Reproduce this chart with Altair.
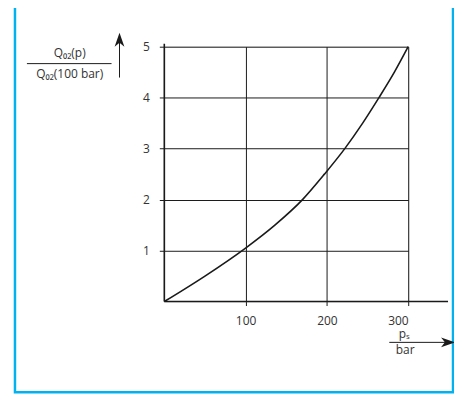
import altair as alt
import pandas as pd

# ---- data ----
pressure = [0, 50, 100, 136, 170, 197, 222, 244, 264, 283, 300]
ratio = [0, 0.5, 1.05, 1.5, 2.0, 2.5, 3.0, 3.5, 4.0, 4.5, 5.0]
x_ticks = [100, 200, 300]
y_ticks = [1, 2, 3, 4, 5]
y_title_top = "Q₀₂(p)"
y_title_bottom = "Q₀₂(100 bar)"
x_title_top = "pₛ"
x_title_bottom = "bar"

curve = pd.DataFrame({"p": pressure, "q": ratio})
one = pd.DataFrame({"k": [0]})

W, H = 245, 256
INK = "#1a1a1a"
TXT = "#333333"
FONT = "Open Sans"
BLUE = "#00b2ef"

xs = alt.Scale(domain=[0, 300], nice=False, zero=True)
ys = alt.Scale(domain=[0, 5], nice=False, zero=True)

line = alt.Chart(curve).mark_line(
    color=INK, strokeWidth=1.6, interpolate="monotone", clip=False
).encode(
    x=alt.X("p:Q", scale=xs, axis=alt.Axis(
        values=x_ticks, grid=True, gridColor=INK, gridWidth=1, gridOpacity=1,
        domain=False, ticks=True, tickColor=INK, tickSize=4, tickWidth=1,
        labelFont=FONT, labelFontSize=12, labelColor=TXT, labelPadding=10,
        title=None)),
    y=alt.Y("q:Q", scale=ys, axis=alt.Axis(
        values=y_ticks, grid=True, gridColor=INK, gridWidth=1, gridOpacity=1,
        domain=False, ticks=True, tickColor=INK, tickSize=5, tickWidth=1,
        labelFont=FONT, labelFontSize=12, labelColor=TXT, labelPadding=10,
        title=None)),
)

deco = alt.Chart(one)

# axis lines (extended beyond the data range, as in the drawing)
x_axis_line = deco.mark_rule(color=INK, strokeWidth=1.6).encode(
    x=alt.value(0), x2=alt.value(285), y=alt.value(H))
y_axis_line = deco.mark_rule(color=INK, strokeWidth=1.6).encode(
    x=alt.value(0), y=alt.value(-3), y2=alt.value(H))

# border
border = deco.mark_rect(fill="transparent", stroke=BLUE, strokeWidth=2.5).encode(
    x=alt.value(-150), x2=alt.value(290), y=alt.value(-40), y2=alt.value(347))

# y title as fraction with upward arrow
y_frac = deco.mark_rule(color=INK, strokeWidth=1).encode(
    x=alt.value(-138), x2=alt.value(-53), y=alt.value(17))
y_num = deco.mark_text(font=FONT, fontSize=12, color=TXT, align="center",
                       baseline="alphabetic").encode(
    x=alt.value(-95), y=alt.value(10), text=alt.value(y_title_top))
y_den = deco.mark_text(font=FONT, fontSize=12, color=TXT, align="center",
                       baseline="alphabetic").encode(
    x=alt.value(-95), y=alt.value(31), text=alt.value(y_title_bottom))
y_shaft = deco.mark_rule(color=INK, strokeWidth=1).encode(
    x=alt.value(-45), y=alt.value(-6), y2=alt.value(31))
y_head = deco.mark_point(
    shape="M0,-1 L0.7,1 L0,0.45 L-0.7,1 Z", filled=True, size=196,
    color=INK, opacity=1, strokeWidth=0).encode(
    x=alt.value(-45), y=alt.value(-7))

# x title as fraction with rightward arrow
x_shaft = deco.mark_rule(color=INK, strokeWidth=1).encode(
    x=alt.value(226), x2=alt.value(282), y=alt.value(297))
x_num = deco.mark_text(font=FONT, fontSize=12, color=TXT, align="center",
                       baseline="alphabetic").encode(
    x=alt.value(241), y=alt.value(293), text=alt.value(x_title_top))
x_den = deco.mark_text(font=FONT, fontSize=12, color=TXT, align="center",
                       baseline="alphabetic").encode(
    x=alt.value(242), y=alt.value(309), text=alt.value(x_title_bottom))
x_head = deco.mark_point(
    shape="M1,0 L-1,0.7 L-0.45,0 L-1,-0.7 Z", filled=True, size=196,
    color=INK, opacity=1, strokeWidth=0).encode(
    x=alt.value(285), y=alt.value(297))

chart = alt.layer(
    line, x_axis_line, y_axis_line, border,
    y_frac, y_num, y_den, y_shaft, y_head,
    x_shaft, x_num, x_den, x_head,
).properties(
    width=W, height=H,
    autosize=alt.AutoSizeParams(type="none"),
    padding={"left": 157, "top": 38, "right": 46, "bottom": 92},
).configure_view(strokeWidth=0).configure(background="white")

chart.save("out.html", embed_options={"renderer": "svg", "actions": False})
